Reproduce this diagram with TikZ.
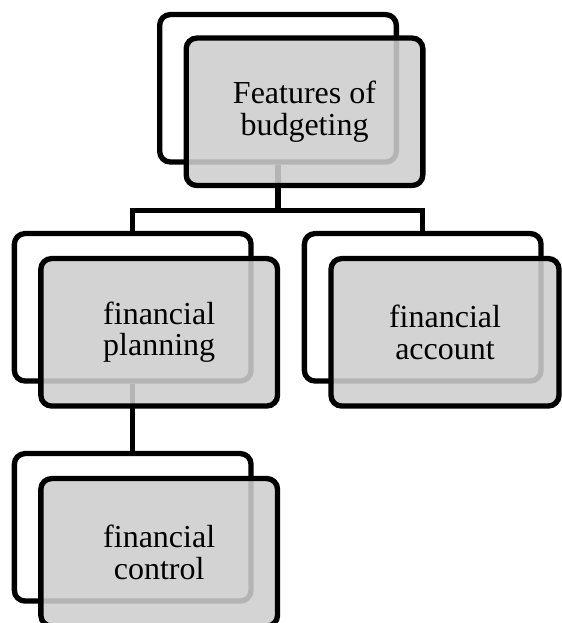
\documentclass[tikz,border=0pt]{standalone}
\usepackage{fontspec}
\setmainfont{Liberation Serif}
\usetikzlibrary{positioning}
\definecolor{boxgray}{RGB}{206,206,206}

\begin{document}
\begin{tikzpicture}[x=.75pt,y=-.75pt,
  backbox/.style={draw, line width=4pt, rounded corners=8pt, fill=white,
    minimum width=177.5pt, minimum height=110.6pt},
  frontbox/.style={draw, line width=4pt, rounded corners=8pt, fill=boxgray,
    fill opacity=.88, text opacity=1, minimum width=177.5pt, minimum height=110.6pt,
    align=center, font=\fontsize{24}{23.5}\selectfont},
  link/.style={line width=4pt}]
\useasboundingbox (0,0) rectangle (561,623);
% back boxes
\node[backbox] (featB) at (278,88.3) {};
\node[backbox] (planB) at (132.7,307.3) {};
\node[backbox] (accB) at (422.7,307.3) {};
\node[backbox] (ctrlB) at (132.7,527.3) {};
% connectors
\coordinate (split) at (278,210.7);
\draw[link] (featB.south) -- (split) -| (planB.north);
\draw[link] (split) -| (accB.north);
\draw[link] (planB.south) -- (ctrlB.north);
% front boxes
\node[frontbox] (feat) at ([shift={(26.5,23.5)}]featB) {Features of\\budgeting};
\node[frontbox] (plan) at ([shift={(26.5,25)}]planB) {financial\\planning};
\node[frontbox, minimum width=171pt] (acc) at ([shift={(22.3,25)}]accB) {financial\\account};
\node[frontbox] (ctrl) at ([shift={(26.5,25)}]ctrlB) {financial\\control};
\end{tikzpicture}
\end{document}
